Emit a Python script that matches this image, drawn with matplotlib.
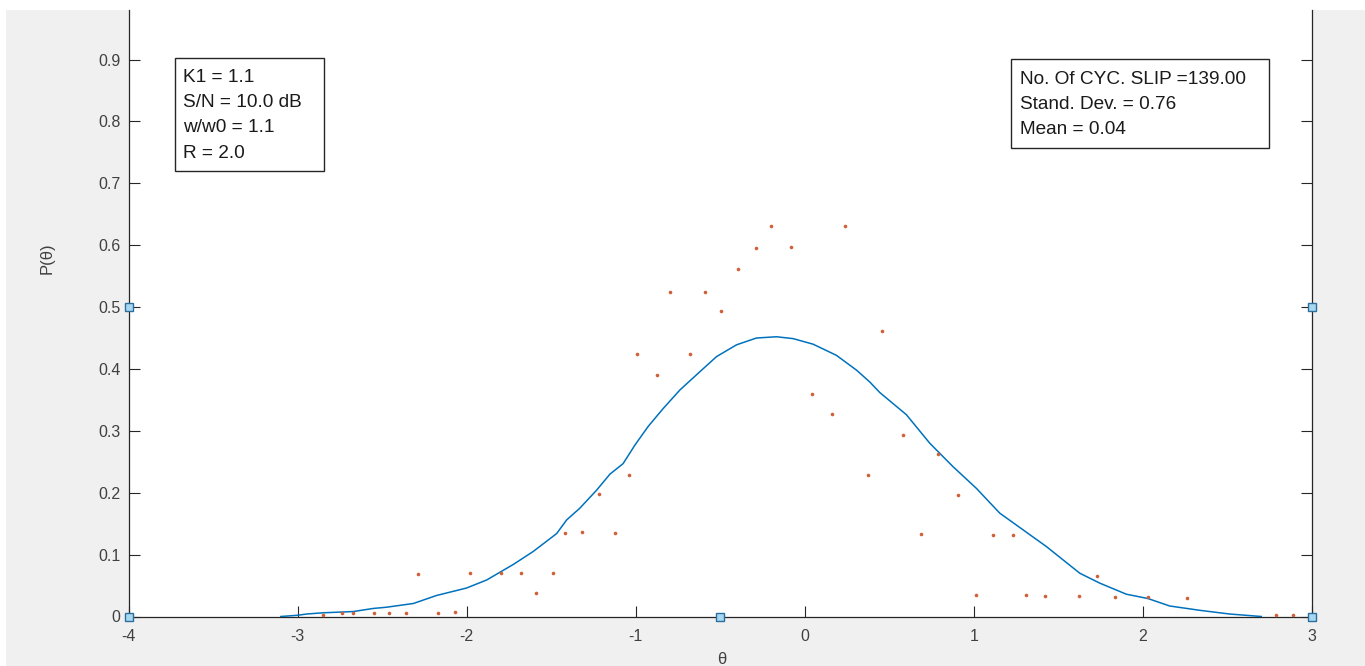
import matplotlib
matplotlib.use("Agg")
import matplotlib.pyplot as plt
from matplotlib.patches import Rectangle

# Smoothed phase-error density (solid line)
theta_curve = [-3.10, -3.00, -2.947, -2.849, -2.671, -2.553, -2.474, -2.316, -2.178,
               -2.001, -1.882, -1.725, -1.607, -1.468, -1.409, -1.331, -1.232, -1.153,
               -1.075, -1.005, -0.927, -0.838, -0.739, -0.631, -0.522, -0.404, -0.286,
               -0.167, -0.069, 0.049, 0.187, 0.306, 0.384, 0.443, 0.601, 0.739, 0.877,
               1.015, 1.153, 1.291, 1.429, 1.626, 1.744, 1.902, 2.030, 2.158, 2.336,
               2.513, 2.70]
p_curve = [0.0, 0.002, 0.004, 0.006, 0.008, 0.013, 0.015, 0.021, 0.034,
           0.046, 0.059, 0.084, 0.105, 0.134, 0.156, 0.175, 0.204, 0.230,
           0.247, 0.277, 0.307, 0.336, 0.366, 0.393, 0.420, 0.439, 0.450,
           0.452, 0.449, 0.440, 0.422, 0.398, 0.379, 0.362, 0.326, 0.280, 0.242,
           0.207, 0.167, 0.140, 0.113, 0.070, 0.054, 0.036, 0.029, 0.017, 0.010,
           0.004, 0.0]

# Histogram estimate (dots)
theta_pts = [-2.849, -2.740, -2.671, -2.547, -2.460, -2.360, -2.290, -2.169, -2.070,
             -1.979, -1.800, -1.680, -1.589, -1.488, -1.419, -1.317, -1.218, -1.120,
             -1.039, -0.992, -0.873, -0.797, -0.678, -0.590, -0.493, -0.396, -0.288,
             -0.201, -0.081, 0.040, 0.158, 0.235, 0.374, 0.454, 0.581, 0.690, 0.788,
             0.906, 1.011, 1.112, 1.232, 1.311, 1.421, 1.622, 1.731, 1.833, 2.030,
             2.263, 2.79, 2.89]
p_pts = [0.002, 0.005, 0.005, 0.005, 0.005, 0.005, 0.069, 0.005, 0.008,
         0.071, 0.070, 0.070, 0.038, 0.070, 0.135, 0.136, 0.198, 0.135,
         0.229, 0.424, 0.390, 0.525, 0.424, 0.525, 0.493, 0.561, 0.595,
         0.631, 0.597, 0.360, 0.327, 0.631, 0.229, 0.462, 0.294, 0.133, 0.262,
         0.197, 0.035, 0.132, 0.131, 0.034, 0.033, 0.033, 0.065, 0.032, 0.032,
         0.030, 0.002, 0.002]

# Selection handles
handle_x = [-4, -4, -0.5, 3, 3]
handle_y = [0, 0.5, 0, 0.5, 0]

x_ticks = [-4, -3, -2, -1, 0, 1, 2, 3]
y_ticks = [0, 0.1, 0.2, 0.3, 0.4, 0.5, 0.6, 0.7, 0.8, 0.9]

params_lines = ["K1 = 1.1", "S/N = 10.0 dB", "w/w0 = 1.1", "R = 2.0"]
stats_lines = ["No. Of CYC. SLIP =139.00", "Stand. Dev. = 0.76", "Mean = 0.04"]

W, H = 1365, 666
DPI = 100
plt.rcParams['font.family'] = ['Liberation Sans', 'DejaVu Sans']

fig = plt.figure(figsize=(W / DPI, H / DPI), dpi=DPI, facecolor='white')

def fx(px):
    return px / W

def fy(py):
    return 1 - py / H

# grey window background, behind everything
fig.patches.append(Rectangle((fx(6), 0), 1 - fx(6), fy(10), transform=fig.transFigure,
                             facecolor='#f0f0f0', edgecolor='none', zorder=-10))

ax_l, ax_r, ax_t, ax_b = 128.6, 1312.0, 10.0, 616.5
ax = fig.add_axes([fx(ax_l), fy(ax_b), fx(ax_r - ax_l), (ax_b - ax_t) / H])
ax.set_zorder(1)
ax.set_facecolor('white')

ax.plot(theta_curve, p_curve, color='#0072BD', lw=1.1, zorder=3)
ax.plot(theta_pts, p_pts, linestyle='none', marker='o', ms=2.6, mew=0,
        color='#D0603A', zorder=4)
ax.plot(handle_x, handle_y, linestyle='none', marker='s', ms=5.5, mfc='#a8d8f0',
        mec='#2c6f9e', mew=1.0, clip_on=False, zorder=6)

ax.set_xlim(-4, 3)
ax.set_ylim(0, 0.98)
ax.set_xticks(x_ticks)
ax.set_xticklabels([str(v) for v in x_ticks])
ax.set_yticks(y_ticks)
ax.set_yticklabels(['0'] + [f'{v:.1f}' for v in y_ticks[1:]])
ax.tick_params(direction='in', length=8, width=0.8, colors='#262626',
               labelcolor='#404040', labelsize=11.5, right=True, top=False)
ax.tick_params(axis='x', pad=9)
ax.tick_params(axis='y', pad=6)
for s in ['left', 'right', 'bottom']:
    ax.spines[s].set_color('#262626')
    ax.spines[s].set_linewidth(0.9)
ax.spines['top'].set_visible(False)

ax.set_xlabel('θ', fontsize=12, color='#404040', va='center', ha='center')
ax.set_ylabel('P(θ)', fontsize=12, color='#404040', va='center', ha='center')
ax.xaxis.set_label_coords((722 - ax_l) / (ax_r - ax_l), -(659 - ax_b) / (ax_b - ax_t))
ax.yaxis.set_label_coords((47 - ax_l) / (ax_r - ax_l), (ax_b - 258) / (ax_b - ax_t))

def text_box(x0, y0, x1, y1, lines, tx, ty0, dy):
    fig.patches.append(Rectangle((fx(x0), fy(y1)), fx(x1 - x0), (y1 - y0) / H,
                                 transform=fig.transFigure, facecolor='white',
                                 edgecolor='#262626', lw=1.0, zorder=5))
    for i, line in enumerate(lines):
        fig.text(fx(tx), fy(ty0 + i * dy), line, fontsize=13.7, color='#1a1a1a',
                 ha='left', va='center', zorder=6)

text_box(175, 58.3, 324, 171, params_lines, 182.7, 77.7, 25.1)
text_box(1011.3, 59.4, 1268.6, 147.9, stats_lines, 1019.7, 79.5, 25.2)

fig.savefig('out.png', dpi=DPI, facecolor=fig.get_facecolor())
